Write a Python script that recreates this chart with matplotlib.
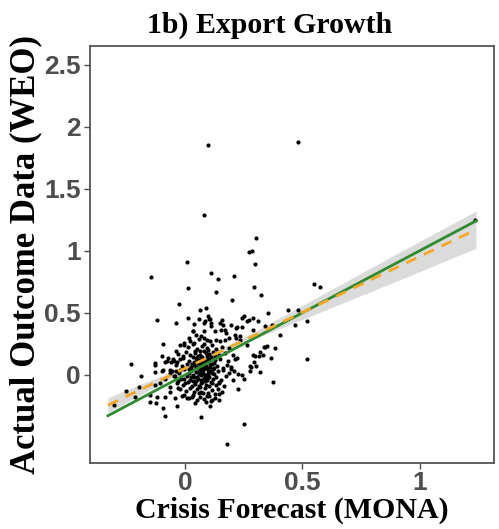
import numpy as np
import matplotlib
matplotlib.use("Agg")
import matplotlib.pyplot as plt
from matplotlib.font_manager import FontProperties

# scatter points: crisis forecast (MONA) vs actual outcome (WEO)
forecast = [
    0.097, 0.479, 0.081, 0.303, 0.007, -0.146, 0.010, -0.026, -0.121, -0.040,
    0.010, 0.037, 0.061, 0.057, -0.095, 0.035, 0.273, 0.284, 0.297, 0.108,
    0.210, 0.139, 0.295, 0.129, 0.324, 0.200, 0.090, 0.354, 0.440, 0.480,
    0.100, 0.240, 0.287, 0.263, 0.310, 0.085, 0.149, 0.196, 0.220, 0.240,
    0.469, 0.340, 0.370, 0.290, 0.170, 0.405, 0.348, 0.384, 0.263, 0.213,
    0.234, 0.185, 0.334, 0.367, 0.298, 0.315, 0.295, 0.281, 0.277, 0.317,
    0.225, 0.240, 0.249, 0.203, 0.196, 0.220, 0.375, 0.227, 0.145, 0.128,
    0.142, 0.100, 0.057, 0.114, 0.107, 0.068, 0.249, 0.179, -0.230, -0.190,
    -0.131, -0.100, -0.097, -0.078, -0.038, -0.035, -0.253, -0.199, -0.305, -0.213,
    -0.149, -0.152, -0.121, -0.124, -0.093, -0.088, -0.085, -0.064, -0.043, -0.035,
    -0.064, -0.029, -0.007, 0.007, 0.029, 0.000, -0.085, -0.107, -0.128, -0.064,
    -0.043, -0.021, -0.007, -0.031, 0.551, 0.575, 0.521, 0.519, 1.236, 0.082,
    0.110, 0.110, 0.158, 0.163, 0.217, 0.082, 0.128, 0.153, 0.175, 0.033,
    0.046, 0.067, 0.018, -0.004, 0.057, 0.078, 0.092, 0.107, 0.132, 0.149,
    0.168, 0.217, 0.234, 0.021, 0.038, 0.317, 0.291, 0.331, 0.341, 0.277,
    0.303, 0.270, 0.249, 0.209, -0.007, -0.075, -0.130, -0.085, -0.060, -0.046,
    -0.024, -0.010, -0.128, -0.100, -0.067, -0.038, 0.104, 0.095,
    # dense core
    -0.021, 0.012, 0.034, 0.051, 0.072, 0.093, 0.114, 0.131, 0.158, 0.187,
    0.043, 0.081, -0.033, 0.003, 0.022, 0.041, 0.063, 0.079, 0.101, 0.119,
    0.142, 0.171, 0.203, 0.054, 0.092, -0.052, -0.011, 0.018, 0.031, 0.049,
    0.068, 0.083, 0.097, 0.108, 0.127, 0.148, 0.182, 0.213, 0.061, 0.121,
    -0.041, -0.016, 0.008, 0.024, 0.038, 0.052, 0.066, 0.074, 0.088, 0.104,
    0.113, 0.136, 0.159, 0.176, 0.196, 0.046, 0.094, -0.058, -0.027, -0.004,
    0.015, 0.029, 0.044, 0.057, 0.071, 0.082, 0.096, 0.109, 0.124, 0.141,
    0.163, 0.188, 0.062, 0.086, 0.118, -0.046, -0.019, 0.006, 0.021, 0.037,
    0.053, 0.067, 0.078, 0.091, 0.103, 0.117, 0.133, 0.152, 0.174, 0.047,
    0.099, -0.035, -0.008, 0.013, 0.027, 0.042, 0.058, 0.072, 0.087, 0.101,
    0.112, 0.129, 0.146, 0.167, 0.064, 0.034, -0.024, 0.004, 0.019, 0.036,
    0.051, 0.069, 0.084, 0.098, 0.115, 0.138, 0.156, 0.076, -0.012, 0.016,
    0.033, 0.049, 0.063, 0.079, 0.094, 0.108, 0.126, 0.088, 0.041, 0.143,
    0.061, 0.077, 0.089, 0.052, 0.071, 0.039, 0.105, 0.083, 0.058, 0.096,
    0.066, 0.113, 0.027, 0.048, 0.074, 0.091, 0.103, 0.056, 0.081, 0.068,
    0.035, 0.122, 0.044, 0.087, 0.099, 0.063, 0.111, 0.128, 0.017, 0.024,
]
outcome = [
    1.850, 1.877, 1.290, 1.100, 0.910, 0.785, 0.700, 0.570, 0.440, 0.420,
    0.460, 0.410, 0.520, 0.450, 0.250, 0.350, 0.990, 1.000, 0.890, 0.820,
    0.800, 0.770, 0.710, 0.670, 0.640, 0.600, 0.535, 0.500, 0.520, 0.520,
    0.450, 0.460, 0.460, 0.430, 0.435, 0.430, 0.420, 0.405, 0.385, 0.385,
    0.400, 0.390, 0.400, 0.360, 0.360, 0.320, 0.230, 0.215, 0.240, 0.320,
    0.310, 0.295, 0.220, 0.135, 0.155, 0.148, 0.107, 0.060, 0.027, 0.020,
    0.005, 0.000, -0.030, -0.040, 0.050, 0.135, -0.060, -0.115, -0.067, -0.155,
    -0.155, -0.170, -0.150, -0.200, -0.250, -0.340, -0.400, -0.560, 0.090, -0.010,
    0.080, 0.150, 0.040, 0.115, 0.190, 0.107, -0.130, -0.100, -0.240, -0.180,
    -0.160, -0.220, -0.175, -0.230, -0.270, -0.330, -0.175, -0.135, -0.190, -0.255,
    -0.095, -0.110, -0.160, -0.190, -0.175, -0.070, -0.030, -0.070, -0.085, 0.015,
    -0.010, 0.040, -0.030, -0.050, 0.730, 0.710, 0.430, 0.130, 1.250, 0.420,
    0.420, 0.390, 0.440, 0.400, 0.376, 0.350, 0.355, 0.363, 0.336, 0.350,
    0.320, 0.315, 0.300, 0.260, 0.290, 0.296, 0.280, 0.270, 0.280, 0.270,
    0.280, 0.300, 0.280, 0.270, 0.255, 0.180, 0.160, 0.160, 0.220, 0.067,
    0.067, 0.440, 0.470, 0.027, 0.240, 0.134, 0.094, 0.107, 0.100, 0.113,
    0.129, 0.153, 0.020, 0.027, 0.040, 0.030, 0.450, 0.470,
    # dense core
    0.238, 0.221, 0.247, 0.209, 0.233, 0.214, 0.241, 0.205, 0.226, 0.212,
    0.192, 0.251, 0.171, 0.183, 0.158, 0.176, 0.162, 0.188, 0.168, 0.181,
    0.157, 0.174, 0.163, 0.151, 0.149, 0.127, 0.138, 0.112, 0.141, 0.119,
    0.133, 0.106, 0.128, 0.142, 0.117, 0.131, 0.109, 0.124, 0.098, 0.095,
    0.082, 0.067, 0.089, 0.061, 0.078, 0.092, 0.057, 0.084, 0.071, 0.062,
    0.088, 0.073, 0.058, 0.081, 0.066, 0.053, 0.051, 0.031, 0.018, 0.043,
    0.012, 0.036, 0.021, 0.004, 0.029, 0.046, 0.016, 0.034, 0.008, 0.027,
    0.041, 0.013, 0.041, 0.002, 0.047, -0.012, -0.031, -0.008, -0.042, -0.019,
    -0.036, -0.004, -0.027, -0.045, -0.014, -0.033, -0.021, -0.039, -0.009, -0.048,
    -0.001, -0.063, -0.081, -0.057, -0.092, -0.071, -0.088, -0.061, -0.079, -0.094,
    -0.066, -0.084, -0.058, -0.091, -0.099, -0.052, -0.112, -0.131, -0.106, -0.142,
    -0.118, -0.137, -0.109, -0.146, -0.124, -0.113, -0.139, -0.148, -0.167, -0.184,
    -0.161, -0.203, -0.176, -0.192, -0.171, -0.213, -0.186, -0.218, -0.227, -0.201,
    0.072, 0.012, 0.113, -0.021, 0.146, 0.104, 0.087, -0.052, 0.121, 0.041,
    -0.069, 0.011, 0.087, 0.063, 0.103, -0.022, 0.119, 0.024, 0.061, -0.041,
    0.002, 0.058, 0.137, 0.176, 0.202, 0.189, -0.056, 0.152, 0.049, -0.018,
]

# 45-degree reference line over the data range
diag_x = [-0.33, 1.24]

# linear fit (dashed) and its confidence band
fit_x = [-0.33, 1.24]
fit_y = [-0.245, 1.170]
band_x = [-0.33, -0.10, 0.08, 0.30, 0.60, 0.90, 1.24]
band_half = [0.06, 0.03, 0.02, 0.03, 0.07, 0.11, 0.15]

x_ticks = [0, 0.5, 1]
y_ticks = [0, 0.5, 1, 1.5, 2, 2.5]

fig = plt.figure(figsize=(4.99, 5.29), dpi=100)
ax = fig.add_axes([0.181, 0.125, 0.809, 0.788])

band_centre = np.interp(band_x, fit_x, fit_y)
ax.fill_between(band_x, band_centre - np.array(band_half), band_centre + np.array(band_half),
                color="#c8c8c8", alpha=0.65, linewidth=0, zorder=1)
ax.scatter(forecast, outcome, s=9, color="black", linewidths=0, zorder=2)
ax.plot(diag_x, diag_x, color="#2e8b2e", linewidth=2, zorder=3)
ax.plot(fit_x, fit_y, color="#f5a623", linewidth=2, linestyle=(0, (4, 3)), zorder=4)

ax.set_xlim(-0.405, 1.317)
ax.set_ylim(-0.71, 2.65)
ax.set_xticks(x_ticks)
ax.set_xticklabels(["0", "0.5", "1"])
ax.set_yticks(y_ticks)
ax.set_yticklabels(["0", "0.5", "1", "1.5", "2", "2.5"])

tick_font = FontProperties(family="Liberation Sans", weight="bold", size=19)
for lab in ax.get_xticklabels() + ax.get_yticklabels():
    lab.set_fontproperties(tick_font)
    lab.set_color("#4d4d4d")
ax.tick_params(direction="out", length=4, width=1, color="#4d4d4d")
ax.tick_params(axis="x", pad=2)
ax.tick_params(axis="y", pad=3)

for sp in ax.spines.values():
    sp.set_color("#555555")
    sp.set_linewidth(1.3)

ax.set_xlabel("Crisis Forecast (MONA)", family="Liberation Serif", weight="bold", size=21.5)
ax.set_ylabel("Actual Outcome Data (WEO)", family="Liberation Serif", weight="bold", size=25)
ax.xaxis.set_label_coords(0.5, -0.08)
ax.yaxis.set_label_coords(-0.12, 0.5)
fig.text(270 / 499, 1 - 25 / 529, "1b) Export Growth", family="Liberation Serif",
         weight="bold", size=21.5, ha="center", va="center")

fig.savefig("out.png", dpi=100)
